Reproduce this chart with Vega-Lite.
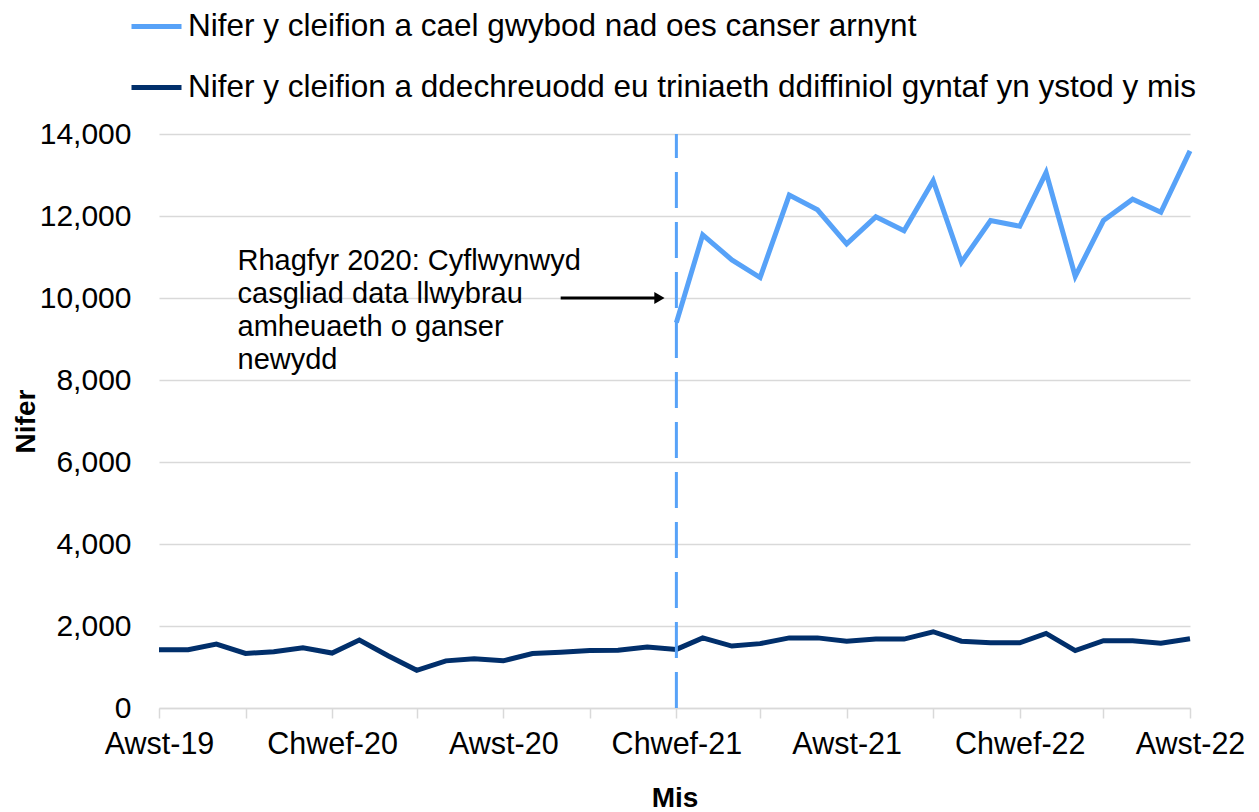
{
  "$schema": "https://vega.github.io/schema/vega-lite/v6.json",
  "width": 1031,
  "height": 574,
  "autosize": {"type": "none"},
  "padding": {"left": 159, "top": 134, "right": 69, "bottom": 104},
  "background": "white",
  "config": {
    "font": "Liberation Sans",
    "view": {"stroke": null}
  },
  "data": {"values": [{}]},
  "datasets": {
    "series": [
      {"month": "2019-08-01", "series": "b", "count": 1420},
      {"month": "2019-09-01", "series": "b", "count": 1420},
      {"month": "2019-10-01", "series": "b", "count": 1560},
      {"month": "2019-11-01", "series": "b", "count": 1330},
      {"month": "2019-12-01", "series": "b", "count": 1370},
      {"month": "2020-01-01", "series": "b", "count": 1470},
      {"month": "2020-02-01", "series": "b", "count": 1340},
      {"month": "2020-03-01", "series": "b", "count": 1660},
      {"month": "2020-04-01", "series": "b", "count": 1270},
      {"month": "2020-05-01", "series": "b", "count": 920},
      {"month": "2020-06-01", "series": "b", "count": 1150},
      {"month": "2020-07-01", "series": "b", "count": 1200},
      {"month": "2020-08-01", "series": "b", "count": 1150},
      {"month": "2020-09-01", "series": "b", "count": 1330},
      {"month": "2020-10-01", "series": "b", "count": 1360},
      {"month": "2020-11-01", "series": "b", "count": 1400},
      {"month": "2020-12-01", "series": "b", "count": 1410},
      {"month": "2021-01-01", "series": "b", "count": 1490},
      {"month": "2021-02-01", "series": "b", "count": 1430},
      {"month": "2021-03-01", "series": "b", "count": 1710},
      {"month": "2021-04-01", "series": "b", "count": 1510},
      {"month": "2021-05-01", "series": "b", "count": 1570},
      {"month": "2021-06-01", "series": "b", "count": 1710},
      {"month": "2021-07-01", "series": "b", "count": 1710},
      {"month": "2021-08-01", "series": "b", "count": 1630},
      {"month": "2021-09-01", "series": "b", "count": 1680},
      {"month": "2021-10-01", "series": "b", "count": 1680},
      {"month": "2021-11-01", "series": "b", "count": 1860},
      {"month": "2021-12-01", "series": "b", "count": 1630},
      {"month": "2022-01-01", "series": "b", "count": 1590},
      {"month": "2022-02-01", "series": "b", "count": 1590},
      {"month": "2022-03-01", "series": "b", "count": 1820},
      {"month": "2022-04-01", "series": "b", "count": 1400},
      {"month": "2022-05-01", "series": "b", "count": 1640},
      {"month": "2022-06-01", "series": "b", "count": 1640},
      {"month": "2022-07-01", "series": "b", "count": 1580},
      {"month": "2022-08-01", "series": "b", "count": 1690},
      {"month": "2021-02-01", "series": "a", "count": 9400},
      {"month": "2021-03-01", "series": "a", "count": 11540},
      {"month": "2021-04-01", "series": "a", "count": 10930},
      {"month": "2021-05-01", "series": "a", "count": 10500},
      {"month": "2021-06-01", "series": "a", "count": 12510},
      {"month": "2021-07-01", "series": "a", "count": 12150},
      {"month": "2021-08-01", "series": "a", "count": 11320},
      {"month": "2021-09-01", "series": "a", "count": 11980},
      {"month": "2021-10-01", "series": "a", "count": 11640},
      {"month": "2021-11-01", "series": "a", "count": 12860},
      {"month": "2021-12-01", "series": "a", "count": 10870},
      {"month": "2022-01-01", "series": "a", "count": 11890},
      {"month": "2022-02-01", "series": "a", "count": 11750},
      {"month": "2022-03-01", "series": "a", "count": 13060},
      {"month": "2022-04-01", "series": "a", "count": 10530},
      {"month": "2022-05-01", "series": "a", "count": 11890},
      {"month": "2022-06-01", "series": "a", "count": 12410},
      {"month": "2022-07-01", "series": "a", "count": 12090},
      {"month": "2022-08-01", "series": "a", "count": 13590}
    ]
  },
  "layer": [
    {
      "data": {"name": "series"},
      "mark": {"type": "line", "strokeWidth": 5, "strokeJoin": "miter", "strokeCap": "butt"},
      "encoding": {
        "x": {
          "field": "month",
          "type": "temporal",
          "scale": {
            "type": "utc",
            "domain": [
              {"year": 2019, "month": 8, "date": 1, "utc": true},
              {"year": 2022, "month": 8, "date": 1, "utc": true}
            ]
          },
          "axis": {
            "title": "Mis",
            "titleFontSize": 28,
            "titleFontWeight": "bold",
            "titleColor": "#000000",
            "titlePadding": 25,
            "values": [
              {"year": 2019, "month": 8, "date": 1, "utc": true},
              {"year": 2019, "month": 11, "date": 1, "utc": true},
              {"year": 2020, "month": 2, "date": 1, "utc": true},
              {"year": 2020, "month": 5, "date": 1, "utc": true},
              {"year": 2020, "month": 8, "date": 1, "utc": true},
              {"year": 2020, "month": 11, "date": 1, "utc": true},
              {"year": 2021, "month": 2, "date": 1, "utc": true},
              {"year": 2021, "month": 5, "date": 1, "utc": true},
              {"year": 2021, "month": 8, "date": 1, "utc": true},
              {"year": 2021, "month": 11, "date": 1, "utc": true},
              {"year": 2022, "month": 2, "date": 1, "utc": true},
              {"year": 2022, "month": 5, "date": 1, "utc": true},
              {"year": 2022, "month": 8, "date": 1, "utc": true}
            ],
            "labelExpr": "utcFormat(datum.value, '%m') == '08' ? 'Awst-' + utcFormat(datum.value, '%y') : (utcFormat(datum.value, '%m') == '02' ? 'Chwef-' + utcFormat(datum.value, '%y') : '')",
            "labelFontSize": 30.5,
            "labelColor": "#000000",
            "labelPadding": 11,
            "labelOverlap": false,
            "labelBound": false,
            "labelFlush": false,
            "grid": false,
            "domainColor": "#d9d9d9",
            "domainWidth": 1.5,
            "tickColor": "#d9d9d9",
            "tickWidth": 1.5,
            "tickSize": 10
          }
        },
        "y": {
          "field": "count",
          "type": "quantitative",
          "scale": {"domain": [0, 14000], "nice": false},
          "axis": {
            "title": "Nifer",
            "titleFontSize": 28,
            "titleFontWeight": "bold",
            "titleColor": "#000000",
            "titlePadding": -1,
            "values": [0, 2000, 4000, 6000, 8000, 10000, 12000, 14000],
            "format": ",.0f",
            "labelFontSize": 30,
            "labelColor": "#000000",
            "labelPadding": 28,
            "ticks": false,
            "domain": false,
            "grid": true,
            "gridColor": "#d9d9d9",
            "gridWidth": 1.5
          }
        },
        "color": {
          "field": "series",
          "type": "nominal",
          "scale": {"domain": ["a", "b"], "range": ["#57A2F8", "#012F6B"]},
          "legend": {
            "title": null,
            "orient": "none",
            "legendX": -30,
            "legendY": -135,
            "direction": "vertical",
            "padding": 0,
            "symbolType": "stroke",
            "symbolSize": 2500,
            "symbolStrokeWidth": 5,
            "labelFontSize": 31.5,
            "labelColor": "#000000",
            "labelLimit": 0,
            "labelOffset": 4,
            "rowPadding": 18,
            "labelExpr": "datum.label == 'a' ? 'Nifer y cleifion a cael gwybod nad oes canser arnynt' : 'Nifer y cleifion a ddechreuodd eu triniaeth ddiffiniol gyntaf yn ystod y mis'"
          }
        }
      }
    },
    {
      "mark": {"type": "rule", "color": "#57A2F8", "strokeWidth": 3, "strokeDash": [36, 14]},
      "encoding": {
        "x": {"datum": {"year": 2021, "month": 2, "date": 1, "utc": true}, "type": "temporal"},
        "y": {"datum": 0, "type": "quantitative"},
        "y2": {"datum": 14000}
      }
    },
    {
      "mark": {"type": "rule", "color": "#000000", "strokeWidth": 3},
      "encoding": {
        "x": {"datum": {"year": 2020, "month": 10, "date": 1, "utc": true}, "type": "temporal"},
        "x2": {"datum": {"year": 2021, "month": 1, "date": 10, "utc": true}},
        "y": {"datum": 10000, "type": "quantitative"}
      }
    },
    {
      "mark": {"type": "point", "shape": "triangle-right", "filled": true, "color": "#000000", "size": 140, "opacity": 1},
      "encoding": {
        "x": {"datum": {"year": 2021, "month": 1, "date": 14, "utc": true}, "type": "temporal"},
        "y": {"datum": 10000, "type": "quantitative"}
      }
    },
    {
      "mark": {
        "type": "text",
        "text": ["Rhagfyr 2020: Cyflwynwyd", "casgliad data llwybrau", "amheuaeth o ganser", "newydd"],
        "align": "left",
        "baseline": "alphabetic",
        "fontSize": 29,
        "lineHeight": 33,
        "color": "#000000",
        "dx": -8
      },
      "encoding": {
        "x": {"datum": {"year": 2019, "month": 11, "date": 1, "utc": true}, "type": "temporal"},
        "y": {"datum": 10680, "type": "quantitative"}
      }
    }
  ]
}
